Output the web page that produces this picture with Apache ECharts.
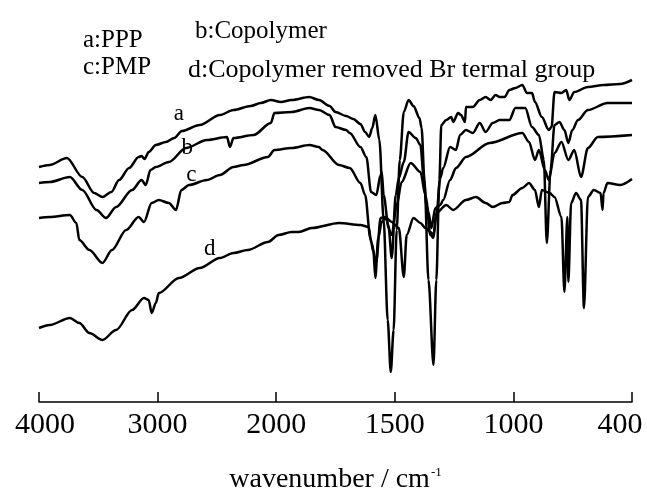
<!DOCTYPE html>
<html>
<head>
<meta charset="utf-8">
<script src="https://cdn.jsdelivr.net/npm/echarts@6/dist/echarts.min.js"></script>
<style>
  html, body { margin: 0; padding: 0; background: #fff; }
  #chart { width: 647px; height: 489px; }
</style>
</head>
<body>
<div id="chart"></div>
<script>
// tick values of the broken wavenumber axis (equal spacing between ticks)
const tickValues = [4000, 3000, 2000, 1500, 1000, 400]
const tickLabels = ['4000', '3000', '2000', '1500', '1000', '400']

// a: PPP
const waveA = [4000, 3910, 3765, 3635, 3535, 3465, 3390, 3325, 3240, 3160, 3135, 3110, 3075, 3015, 2930, 2860, 2795, 2645, 2475, 2360, 2215, 2130, 2045, 1980, 1935, 1860, 1820, 1775, 1750, 1705, 1675, 1645, 1625, 1608, 1595, 1582, 1565, 1547, 1530, 1517, 1505, 1492, 1479, 1462, 1442, 1421, 1396, 1387, 1375, 1358, 1337, 1325, 1312, 1304, 1283, 1262, 1254, 1233, 1221, 1204, 1200, 1171, 1142, 1117, 1096, 1075, 1058, 1037, 1017, 990, 955, 931, 906, 891, 856, 821, 807, 792, 757, 733, 717, 692, 623, 544, 460, 400]
const transA = [235, 237, 244, 225, 209, 205, 210, 222, 234, 245, 246, 243, 250, 257, 260, 264, 271, 277, 287, 292, 296, 299, 302, 300, 302, 305, 302, 296, 290, 286, 283, 278, 270, 265, 274, 287, 262, 182, 82, 30, 72, 172, 242, 290, 302, 296, 284, 274, 222, 122, 37, 122, 222, 277, 282, 285, 280, 289, 287, 280, 295, 295, 302, 305, 302, 307, 305, 305, 312, 314, 317, 309, 309, 300, 285, 272, 275, 310, 309, 312, 302, 310, 315, 317, 318, 322]

// b: Copolymer
const waveB = [4000, 3910, 3740, 3635, 3515, 3435, 3350, 3215, 3135, 3100, 3060, 3015, 2905, 2760, 2585, 2415, 2390, 2360, 2190, 2045, 2015, 1935, 1860, 1820, 1775, 1750, 1705, 1690, 1645, 1620, 1600, 1578, 1560, 1555, 1547, 1526, 1513, 1496, 1483, 1462, 1442, 1412, 1392, 1379, 1367, 1350, 1337, 1325, 1308, 1296, 1267, 1242, 1225, 1200, 1171, 1142, 1117, 1087, 1058, 1017, 990, 940, 906, 871, 846, 831, 812, 792, 767, 742, 722, 702, 673, 623, 524, 400]
const transB = [219, 220, 225, 212, 192, 184, 195, 212, 222, 217, 232, 235, 240, 254, 262, 265, 255, 264, 267, 279, 289, 290, 294, 292, 287, 275, 272, 269, 255, 245, 210, 207, 227, 230, 207, 174, 144, 207, 224, 240, 270, 264, 257, 227, 197, 167, 164, 187, 224, 234, 255, 252, 267, 272, 269, 279, 270, 279, 282, 282, 294, 294, 275, 267, 242, 159, 232, 277, 280, 272, 259, 272, 282, 292, 299, 299]

// c: PMP
const waveC = [4000, 3910, 3740, 3685, 3660, 3575, 3465, 3385, 3265, 3160, 3115, 3050, 2990, 2905, 2845, 2800, 2735, 2585, 2475, 2360, 2275, 2070, 2015, 1935, 1860, 1820, 1805, 1735, 1690, 1645, 1625, 1603, 1590, 1582, 1570, 1555, 1540, 1513, 1492, 1471, 1433, 1392, 1371, 1358, 1346, 1329, 1308, 1296, 1267, 1242, 1200, 1100, 955, 921, 891, 871, 841, 821, 792, 757, 722, 692, 658, 623, 573, 400]
const transC = [184, 185, 187, 179, 162, 152, 139, 152, 172, 185, 180, 199, 202, 199, 192, 212, 217, 222, 227, 235, 237, 245, 252, 254, 257, 255, 252, 237, 234, 219, 207, 164, 150, 124, 164, 180, 184, 167, 197, 220, 239, 230, 207, 190, 174, 194, 197, 202, 222, 234, 245, 259, 269, 260, 242, 252, 232, 222, 249, 260, 242, 252, 225, 254, 265, 267]

// d: Copolymer removed Br termal group
const waveD = [4000, 3910, 3740, 3660, 3575, 3465, 3350, 3215, 3115, 3075, 3050, 3015, 2990, 2820, 2645, 2475, 2360, 2240, 2070, 1990, 1935, 1905, 1850, 1735, 1645, 1610, 1600, 1578, 1560, 1540, 1513, 1483, 1462, 1450, 1421, 1392, 1371, 1350, 1337, 1325, 1283, 1254, 1200, 1158, 1117, 1087, 1046, 1017, 1004, 955, 921, 891, 871, 856, 817, 792, 757, 742, 727, 722, 708, 683, 658, 643, 623, 593, 559, 549, 544, 524, 460, 400]
const transD = [74, 77, 84, 79, 69, 62, 72, 92, 104, 102, 89, 99, 109, 124, 134, 144, 149, 152, 160, 167, 170, 170, 174, 179, 177, 175, 160, 140, 184, 185, 180, 174, 125, 167, 184, 179, 174, 170, 167, 189, 197, 192, 202, 205, 199, 195, 199, 200, 207, 214, 219, 212, 195, 212, 209, 205, 185, 110, 185, 120, 199, 209, 202, 94, 205, 212, 209, 192, 209, 219, 217, 223]

// curve tags placed on the plot: [name, wavenumber, transmittance]
const curveTags = [
  ['a', 2820, 288],
  ['b', 2750, 254],
  ['c', 2715, 227],
  ['d', 2560, 153]
]

const serif = '"Liberation Serif", "Times New Roman", serif'

// wavenumber -> position on the broken axis (one unit between ticks)
function toPos(wn) {
  for (let i = 0; i < tickValues.length - 1; i++) {
    const hi = tickValues[i]
    const lo = tickValues[i + 1]
    if (wn <= hi && wn >= lo) {
      return i + (hi - wn) / (hi - lo)
    }
  }
  return wn > tickValues[0] ? 0 : tickValues.length - 1
}

function makeSeries(name, waves, trans, tag) {
  return {
    name: name,
    type: 'line',
    showSymbol: false,
    symbol: 'none',
    smooth: 0.3,
    smoothMonotone: 'x',
    lineStyle: { color: '#000', width: 2.5 },
    data: waves.map((w, i) => [toPos(w), trans[i]]),
    markPoint: {
      symbol: 'circle',
      symbolSize: 1,
      itemStyle: { color: 'rgba(0,0,0,0)' },
      label: {
        show: true,
        position: 'inside',
        color: '#000',
        fontFamily: serif,
        fontSize: 23,
        formatter: tag[0]
      },
      data: [{ coord: [toPos(tag[1]), tag[2]] }]
    }
  }
}

const chart = echarts.init(document.getElementById('chart'))
const options = {
  backgroundColor: '#fff',
  animation: false,
  grid: {
    left: 39,
    right: 15,
    top: 62,
    bottom: 87,
    containLabel: false,
    outerBoundsMode: 'none'
  },
  graphic: [
    { type: 'text', style: { x: 83, y: 40, text: 'a:PPP', font: '25px ' + serif, fill: '#000', verticalAlign: 'middle' } },
    { type: 'text', style: { x: 195, y: 31, text: 'b:Copolymer', font: '25px ' + serif, fill: '#000', verticalAlign: 'middle' } },
    { type: 'text', style: { x: 83, y: 67, text: 'c:PMP', font: '25px ' + serif, fill: '#000', verticalAlign: 'middle' } },
    { type: 'text', style: { x: 188, y: 70, text: 'd:Copolymer removed Br termal group', font: '26px ' + serif, fill: '#000', verticalAlign: 'middle' } }
  ],
  xAxis: {
    type: 'value',
    min: 0,
    max: tickValues.length - 1,
    interval: 1,
    splitLine: { show: false },
    axisLine: { onZero: false, lineStyle: { color: '#000', width: 1.5 } },
    axisTick: { inside: true, length: 10, lineStyle: { color: '#000', width: 1.5 } },
    axisLabel: {
      color: '#000',
      fontFamily: serif,
      fontSize: 30,
      margin: 8,
      formatter: function (v) {
        const i = Math.round(v)
        if (i === 0) return '{l|' + tickLabels[i] + '}'
        if (i === tickLabels.length - 1) return '{r|' + tickLabels[i] + '}'
        return tickLabels[i]
      },
      rich: {
        l: { fontFamily: serif, fontSize: 30, color: '#000', padding: [0, 0, 0, 12] },
        r: { fontFamily: serif, fontSize: 30, color: '#000', padding: [0, 24, 0, 0] }
      }
    },
    name: '{n|wavenumber / cm}{s|-1}',
    nameLocation: 'middle',
    nameGap: 64,
    nameTextStyle: {
      rich: {
        n: { fontFamily: serif, fontSize: 28, color: '#000' },
        s: { fontFamily: serif, fontSize: 13, color: '#000', padding: [0, 0, 14, 1] }
      }
    }
  },
  yAxis: {
    type: 'value',
    show: false,
    min: 0,
    max: 340
  },
  series: [
    makeSeries('a:PPP', waveA, transA, curveTags[0]),
    makeSeries('b:Copolymer', waveB, transB, curveTags[1]),
    makeSeries('c:PMP', waveC, transC, curveTags[2]),
    makeSeries('d:Copolymer removed Br termal group', waveD, transD, curveTags[3])
  ]
}
chart.setOption(options)
window.addEventListener('resize', () => {
  chart.resize()
})
</script>
</body>
</html>
